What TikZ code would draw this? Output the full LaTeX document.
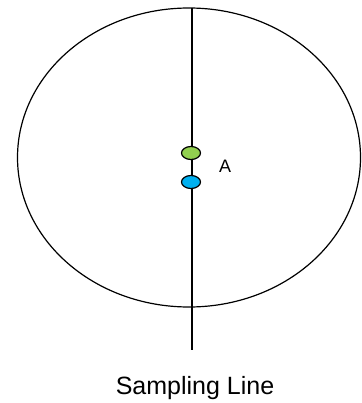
\documentclass[tikz,border=0pt]{standalone}
\usepackage{fontspec}
\setmainfont{Liberation Sans}
\usetikzlibrary{shapes.geometric, positioning}

\definecolor{dotgreen}{RGB}{146,208,80}
\definecolor{dotblue}{RGB}{0,176,240}

\begin{document}
\begin{tikzpicture}[
    x=1pt, y=-1pt,
    dot/.style={ellipse, draw=black, line width=1.2pt, minimum width=19pt, minimum height=13pt, inner sep=0pt},
    label/.style={font=\fontsize{18}{21}\selectfont, inner sep=0pt}
]
    \useasboundingbox (0,0) rectangle (361,403);

    \node[ellipse, draw=black, line width=1.2pt, minimum width=343pt, minimum height=299pt, inner sep=0pt] (field) at (189,157.5) {};

    % linea de muestreo
    \coordinate (linetop) at (192,8);
    \coordinate (linebottom) at (192,350);
    \draw[line width=1.2pt] (linetop) -- (linebottom);

    \node[dot, fill=dotgreen] (green) at (191,153) {};
    \node[dot, fill=dotblue] (blue) at (191,182) {};
    \node[label] (labelA) at (225,166) {A};

    \node[font=\fontsize{25}{30}\selectfont, inner sep=0pt] (caption) at (195,388) {Sampling Line};
\end{tikzpicture}
\end{document}
